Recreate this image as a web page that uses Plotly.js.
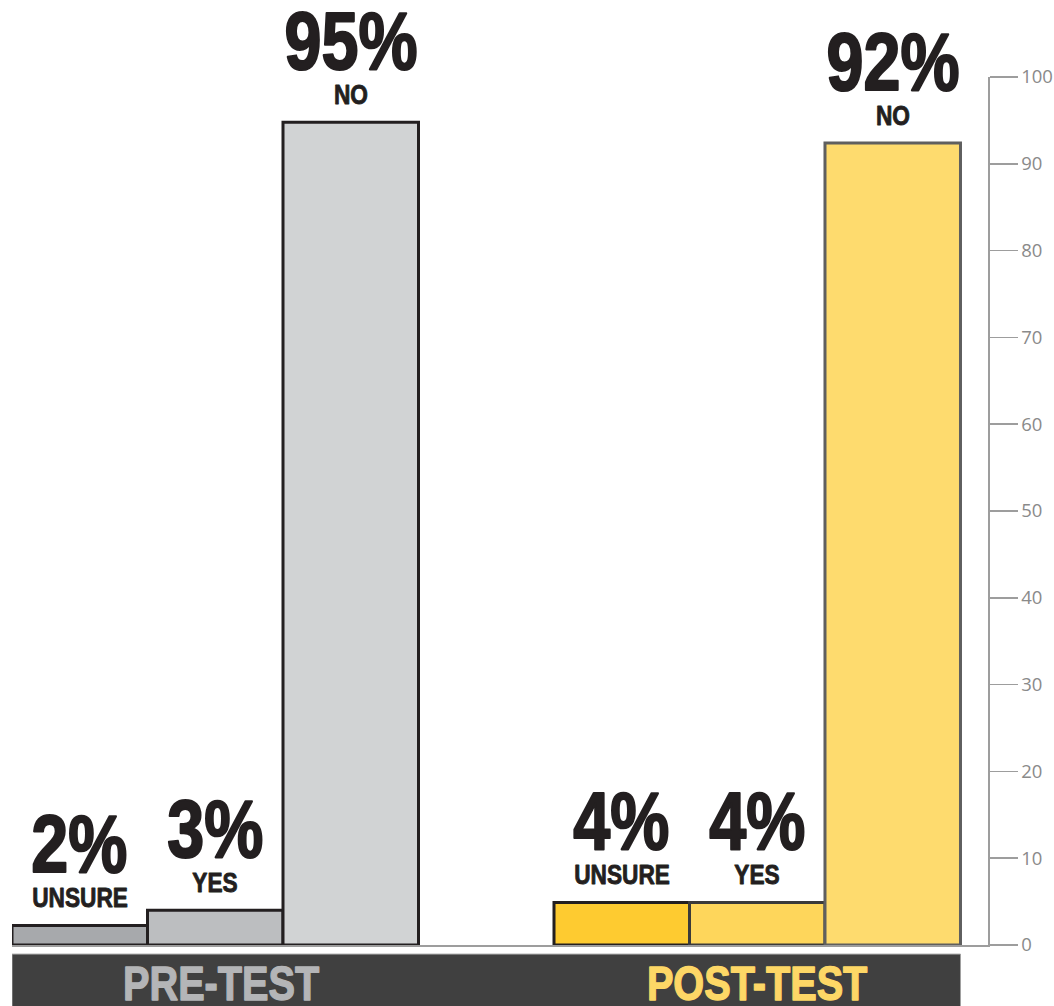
<!DOCTYPE html>
<html>
<head>
<meta charset="utf-8">
<script src="https://cdn.plot.ly/plotly-3.0.1.min.js"></script>
<style>
html,body{margin:0;padding:0;background:#fff;}
#chart{width:1054px;height:1006px;}
/* condensed look for the bold labels */
#chart .annotation-text{transform-box:fill-box;transform-origin:50% 50%;transform:scaleX(0.81);}
</style>
</head>
<body>
<div id="chart"></div>
<script>
// Data
const groups = ["PRE-TEST", "POST-TEST"];
const answers = ["UNSURE", "YES", "NO"];
const preHeights = [2.25, 4.0, 94.8];
const postHeights = [4.9, 4.9, 92.4];
const preLabels = ["2%", "3%", "95%"];
const postLabels = ["4%", "4%", "92%"];
const yTicks = [0, 10, 20, 30, 40, 50, 60, 70, 80, 90, 100];

const preColors = ["#a7a9ac", "#bcbec0", "#d1d3d4"];
const postColors = ["#fecb30", "#fed65b", "#fedb6e"];
const preLine = ["#231f20", "#231f20", "#231f20"];
const postLine = ["#231f20", "#3a3a3a", "#5f5f5f"];
const groupTextColors = ["#b4b5b7", "#fdd766"];

const FONT = "'Liberation Sans', Arial, sans-serif";

const preX = [0, 1, 2];
const postX = [4, 5, 6];

const traces = [
  {type: "bar", x: preX, y: preHeights, width: 1,
   marker: {color: preColors, line: {color: preLine, width: 3}}, hoverinfo: "skip"},
  {type: "bar", x: postX, y: postHeights, width: 1,
   marker: {color: postColors, line: {color: postLine, width: 3}}, hoverinfo: "skip"}
];

const annotations = [];
function addLabels(xs, hs, labs) {
  xs.forEach((x, i) => {
    annotations.push({x: x, y: hs[i], xref: "x", yref: "y", yanchor: "bottom", showarrow: false,
      text: answers[i], yshift: 10,
      font: {family: FONT, size: 28, color: "#231f20", weight: 700}});
    annotations.push({x: x, y: hs[i], xref: "x", yref: "y", yanchor: "bottom", showarrow: false,
      text: labs[i], yshift: 34,
      font: {family: FONT, size: 82, color: "#231f20", weight: 700}});
  });
}
addLabels(preX, preHeights, preLabels);
addLabels(postX, postHeights, postLabels);

const groupCenters = [1.04, 5.0];
groups.forEach((g, i) => {
  annotations.push({x: groupCenters[i], y: -0.0435, xref: "x", yref: "paper", yanchor: "middle",
    showarrow: false, text: g,
    font: {family: FONT, size: 49, color: groupTextColors[i], weight: 700}});
});

const layout = {
  width: 1054, height: 1006,
  margin: {l: 12, r: 66, t: 77, b: 61},
  paper_bgcolor: "#ffffff", plot_bgcolor: "#ffffff",
  showlegend: false,
  bargap: 0,
  xaxis: {range: [-0.5, 6.703], showgrid: false, zeroline: false, showticklabels: false,
    ticks: "", showline: true, linecolor: "#9d9d9d", linewidth: 1.5, fixedrange: true},
  yaxis: {range: [0, 100], side: "right", tickvals: yTicks, ticktext: yTicks.map(String),
    ticks: "outside", ticklen: 28, tickcolor: "#9d9d9d", tickwidth: 1.5,
    showline: true, linecolor: "#9d9d9d", linewidth: 1.5, showgrid: false, zeroline: false,
    tickfont: {family: "'Open Sans', sans-serif", size: 18.5, color: "#8a8a8a"}, fixedrange: true},
  shapes: [
    {type: "rect", xref: "x", yref: "paper", x0: -0.5, x1: 6.5, y0: -0.0715, y1: -0.0105,
     fillcolor: "#404040", line: {color: "#a0a0a0", width: 1}, layer: "below"}
  ],
  annotations: annotations
};

Plotly.newPlot("chart", traces, layout, {displayModeBar: false, staticPlot: true}).then(gd => {
  // heavier ("black") weight: outline each label in its own fill colour
  gd.querySelectorAll(".annotation-text").forEach(t => {
    const size = parseFloat(t.style.fontSize) || 20;
    t.style.stroke = t.style.fill;
    t.style.strokeWidth = (size > 60 ? 2.2 : size > 40 ? 1.4 : 0.9) + "px";
    t.style.strokeLinejoin = "round";
  });
});
</script>
</body>
</html>
